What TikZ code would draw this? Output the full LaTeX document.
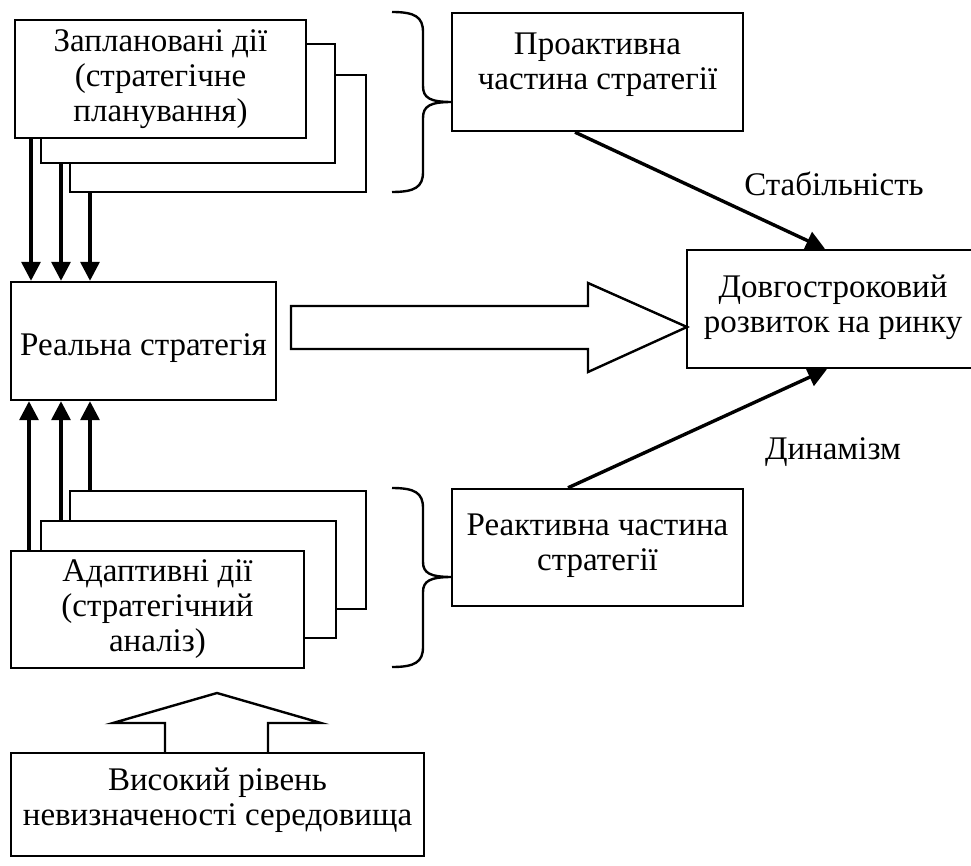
\documentclass[tikz,border=0pt]{standalone}
\usepackage{fontspec}
\setmainfont{Liberation Serif}
\usetikzlibrary{arrows.meta,calc}
\begin{document}
\begin{tikzpicture}[x=1pt,y=-1pt,
  box/.style={draw,line width=2.4pt,fill=white,inner sep=0pt,align=center,font=\fontsize{33}{35}\selectfont},
  arr/.style={line width=3.4pt,-{Triangle[length=19pt,width=19pt]}},
  hollow/.style={draw,line width=2.4pt,fill=white,line join=miter},
  brace/.style={line width=2.4pt},
  lbl/.style={font=\fontsize{33}{35}\selectfont}]
\useasboundingbox (0,0) rectangle (971,866);
% top stack
\node[box,minimum width=296pt,minimum height=117pt] (p3) at (218,133.5) {};
\node[box,minimum width=294pt,minimum height=119pt] (p2) at (188,103.5) {};
\node[box,minimum width=291pt,minimum height=118pt] (p1) at (160.5,79) {Заплановані дії\\(стратегічне\\планування)};
% real strategy
\node[box,minimum width=265pt,minimum height=118pt,text height=36pt,text depth=7pt] (real) at (143.5,341) {Реальна стратегія};
% bottom stack
\node[box,minimum width=296pt,minimum height=118pt] (a3) at (218,550) {};
\node[box,minimum width=295pt,minimum height=117pt] (a2) at (188.5,579.5) {};
\node[box,minimum width=293pt,minimum height=117pt] (a1) at (157.5,609.5) {Адаптивні дії\\(стратегічний\\аналіз)};
% right boxes
\node[box,minimum width=291pt,minimum height=118pt,text depth=22pt] (pro) at (597.5,72) {Проактивна\\частина стратегії};
\node[box,minimum width=291pt,minimum height=117pt,text depth=10pt] (rea) at (597.5,547.5) {Реактивна частина\\стратегії};
\node[box,minimum width=292pt,minimum height=118pt,text depth=10pt] (dev) at (833,309) {Довгостроковий\\розвиток на ринку};
\node[box,minimum width=413pt,minimum height=103pt,text depth=16pt] (env) at (217.5,804.5) {Високий рівень\\невизначеності середовища};
% labels
\node[lbl] (stab) at (834,184) {Стабільність};
\node[lbl] (dyn) at (833,452) {Динамізм};
% x positions for small arrows
\coordinate (d1) at (31,0);
\coordinate (d2) at (61,0);
\coordinate (d3) at (90,0);
\coordinate (u1) at (29,0);
\coordinate (u2) at (61,0);
\coordinate (u3) at (90,0);
\draw[arr] (p1.south -| d1) -- (real.north -| d1);
\draw[arr] (p2.south -| d2) -- (real.north -| d2);
\draw[arr] (p3.south -| d3) -- (real.north -| d3);
\draw[arr] (a1.north -| u1) -- (real.south -| u1);
\draw[arr] (a2.north -| u2) -- (real.south -| u2);
\draw[arr] (a3.north -| u3) -- (real.south -| u3);
% stability / dynamism arrows
\coordinate (sa) at (575,131);
\coordinate (se) at (825,250);
\draw[arr] (pro.south -| sa) -- (dev.north -| se);
\coordinate (da) at (568,488);
\coordinate (de) at (827,368);
\draw[arr] (rea.north -| da) -- (dev.south -| de);
% big hollow arrow right
\coordinate (hs) at (291,327);
\coordinate (ht) at (687,327);
\draw[hollow] (hs) ++(0,-21) -- ++(297,0) -- ++(0,-23) -- (ht) -- ++(-99,45) -- ++(0,-23) -- ++(-297,0) -- cycle;
% hollow arrow up
\coordinate (vt) at (217,693);
\draw[hollow] (env.north -| 165,0) -- (165,723) -- (113,723) -- (vt) -- (321,723) -- (268,723) -- (env.north -| 268,0);
% braces
\coordinate (b1) at (392,12);
\draw[brace] (b1) .. controls (415,12) and (423,17) .. (423,32) -- (423,86) .. controls (423,98) and (430,102) .. (452,102) .. controls (430,102) and (423,106) .. (423,118) -- (423,172) .. controls (423,187) and (415,192) .. (392,192);
\coordinate (b2) at (392,488);
\draw[brace] (b2) .. controls (415,488) and (423,493) .. (423,508) -- (423,562) .. controls (423,573) and (430,577) .. (452,577) .. controls (430,577) and (423,581) .. (423,592) -- (423,647) .. controls (423,662) and (415,667) .. (392,667);
\end{tikzpicture}
\end{document}
